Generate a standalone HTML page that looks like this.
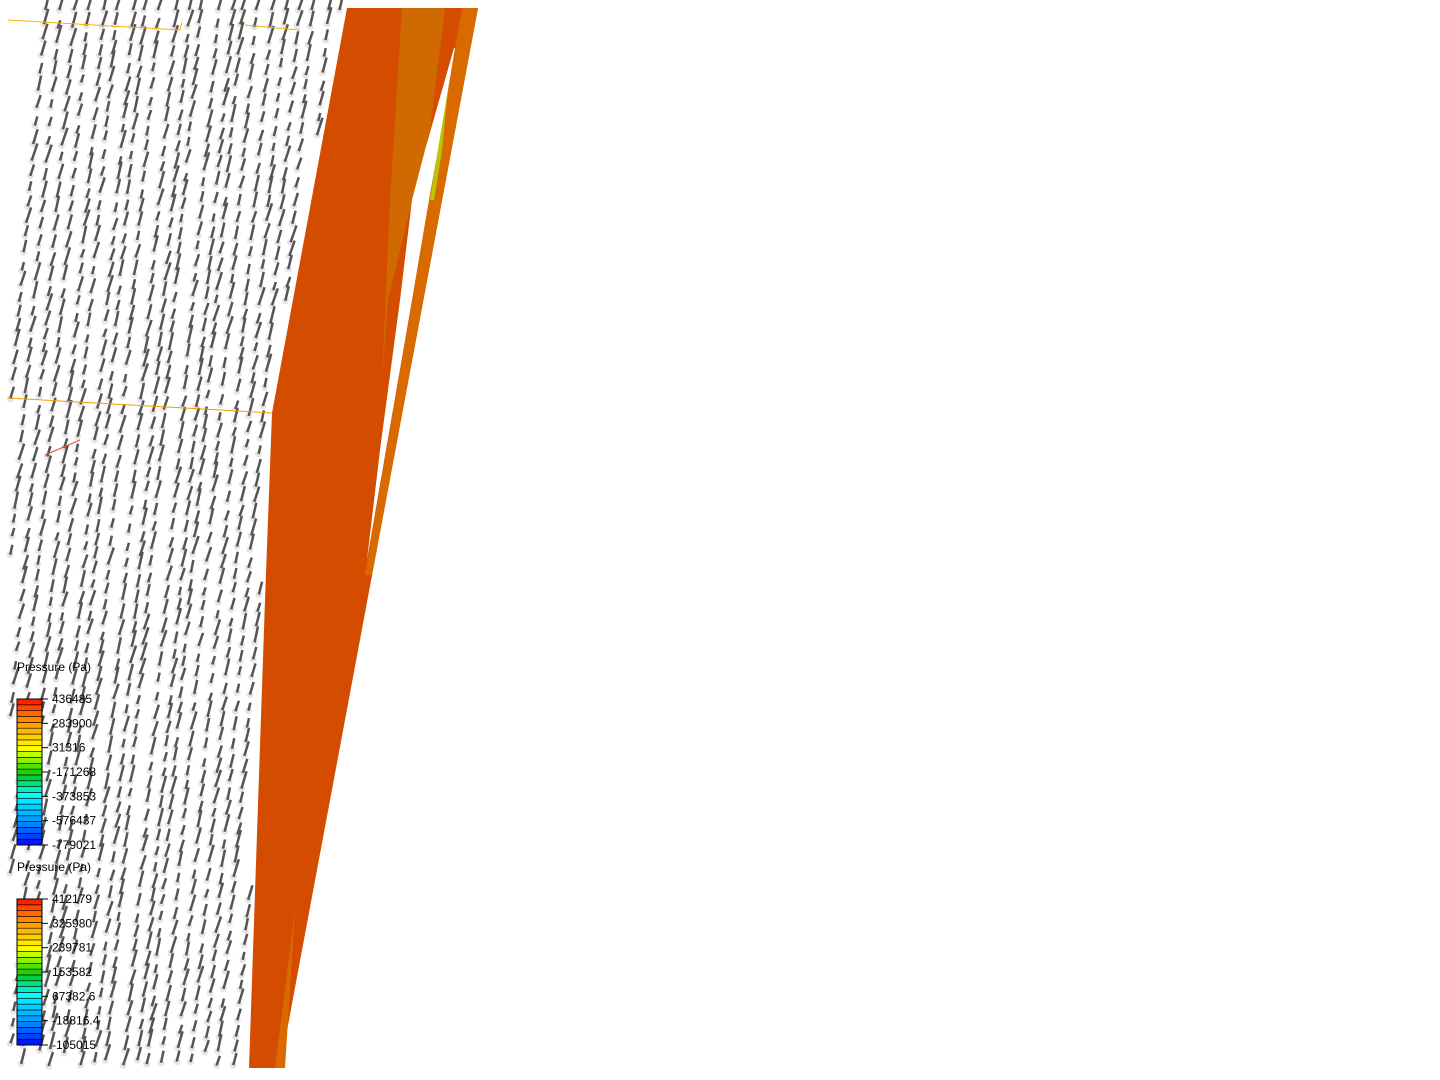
<!DOCTYPE html>
<html><head><meta charset="utf-8"><style>
html,body{margin:0;padding:0;background:#fff;width:1440px;height:1080px;overflow:hidden}
svg{position:absolute;left:0;top:0}
.t{font-family:"Liberation Sans",sans-serif;font-size:12px;fill:#000}
</style></head><body>
<svg id="s" width="1440" height="1080" viewBox="0 0 1440 1080">
<g id="arrows"></g>
<polyline points="8,20 180,30 182,22" fill="none" stroke="#f5b400" stroke-width="1"/>
<polyline points="245,25 300,30" fill="none" stroke="#f5b400" stroke-width="1"/>
<polyline points="8,398 272,413" fill="none" stroke="#f0a000" stroke-width="1"/>
<polyline points="45,455 80,440" fill="none" stroke="#e05020" stroke-width="1"/>
<polygon points="347,8 478,8 280,1068 249,1068 265,600 272,413" fill="#d44c00"/>
<polygon points="402,8 445,8 430,130 405,230 388,300 382,380 390,200" fill="#d06a00"/>
<polygon points="462,8 478,8 372,575 365,575" fill="#d86a00"/>
<polygon points="454,48 425,150 412,200 400,300 380,450 367,560 386,450 412,300 429,200 438,150 455,48" fill="#fff"/>
<polygon points="448,90 438,150 430,200 434,200 442,150" fill="#b8c800"/>
<polygon points="295,910 285,1068 275,1068" fill="#d86a00"/>
<g id="leg"></g>
</svg>
<script>
var ns="http://www.w3.org/2000/svg",g=document.getElementById("arrows");
var seed=7;function r(){seed=(seed*16807)%2147483647;return seed/2147483647;}
function el(n,a,p){var e=document.createElementNS(ns,n);for(var k in a)e.setAttribute(k,a[k]);p.appendChild(e);return e;}
function edge(y){return y<413?272+(413-y)*0.185:272-(y-413)*0.035;}
for(var c=0;c<28;c++){
 var x0=-50+c*14+r()*5;
 for(var y=10;y<1068;y+=13+r()*6){
  var x=x0+(1068-y)*0.09;
  if(x<9||x>edge(y)-6) continue;
  var L=8+r()*10,a=0.2+r()*0.15;
  el("circle",{cx:x,cy:y,r:3.5,fill:"#e6e6e6"},g);
  el("line",{x1:x,y1:y,x2:x+L*a,y2:y-L,stroke:"#555",'stroke-width':2.5},g);
 }
}
var lg=document.getElementById("leg");
var cols=["#0018ff","#0040ff","#0060ff","#0080ff","#00a0ff","#00b8ff","#00d0ff","#00e8ff","#00ffff","#00f0c0","#00e080","#00d040","#20d000","#50e000","#90f000","#c0ff00","#ffff00","#ffe800","#ffd000","#ffb800","#ffa000","#ff8800","#ff6800","#ff4800","#ff2000"];
function legend(y0,labels){
 var t=el("text",{x:17,y:y0+16,'class':"t"},lg);t.textContent="Pressure (Pa)";
 var top=y0+44,h=146,n=cols.length;
 for(var i=0;i<n;i++){el("rect",{x:17,y:top+h-(i+1)*h/n,width:25,height:h/n,fill:cols[i],stroke:"#000",'stroke-width':0.6},lg);}
 el("rect",{x:17,y:top,width:25,height:h,fill:"none",stroke:"#000",'stroke-width':1},lg);
 for(var j=0;j<7;j++){var yy=top+j*h/6;
  el("line",{x1:42,y1:yy,x2:48,y2:yy,stroke:"#000"},lg);
  var tt=el("text",{x:52,y:yy+4,'class':"t"},lg);tt.textContent=labels[j];}
}
legend(655,["436485","283900","31316","-171268","-373853","-576437","-779021"]);
legend(855,["412179","325980","239781","153582","67382.6","-18816.4","-105015"]);
</script>
</body></html>
